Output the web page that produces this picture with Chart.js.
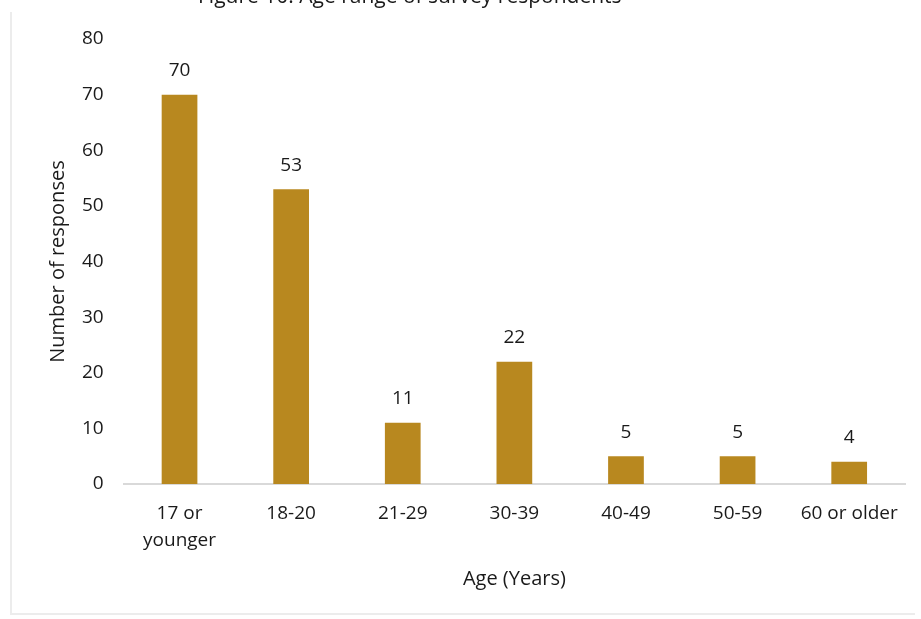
<!DOCTYPE html>
<html>
<head>
<meta charset="utf-8">
<script src="https://cdn.jsdelivr.net/npm/chart.js@4/dist/chart.umd.min.js"></script>
<style>
  html, body { margin: 0; padding: 0; background: #fff; }
  #wrap { width: 921px; height: 619px; position: relative; }
</style>
</head>
<body>
<div id="wrap"><canvas id="chart" width="921" height="619"></canvas></div>
<script>
// Survey responses per age group
const ageGroups = [['17 or', 'younger'], '18-20', '21-29', '30-39', '40-49', '50-59', '60 or older'];
const responses = [70, 53, 11, 22, 5, 5, 4];
const yTicks = [0, 10, 20, 30, 40, 50, 60, 70, 80];

const barColor = '#B8881F';
const textColor = '#1a1a1a';
const fontFamily = '"Open Sans", "Noto Sans", sans-serif';

// Value labels above each bar, plus the faint page frame and clipped caption
const extras = {
  id: 'extras',
  beforeDraw(chart) {
    const ctx = chart.ctx;
    ctx.save();
    ctx.fillStyle = '#fff';
    ctx.fillRect(0, 0, chart.width, chart.height);
    ctx.strokeStyle = '#ececec';
    ctx.lineWidth = 2;
    ctx.beginPath();
    ctx.moveTo(11, 12);
    ctx.lineTo(11, 614);
    ctx.lineTo(915, 614);
    ctx.stroke();
    ctx.fillStyle = textColor;
    ctx.font = '21px ' + fontFamily;
    ctx.textBaseline = 'alphabetic';
    ctx.textAlign = 'left';
    ctx.fillText('Figure 10: Age range of survey respondents', 198, 3);
    ctx.restore();
  },
  afterDatasetsDraw(chart) {
    const ctx = chart.ctx;
    const meta = chart.getDatasetMeta(0);
    ctx.save();
    ctx.fillStyle = textColor;
    ctx.font = '19px ' + fontFamily;
    ctx.textAlign = 'center';
    ctx.textBaseline = 'middle';
    meta.data.forEach((bar, i) => {
      ctx.fillText(String(responses[i]), bar.x, bar.y - 24);
    });
    ctx.restore();
  }
};

new Chart(document.getElementById('chart').getContext('2d'), {
  type: 'bar',
  data: {
    labels: ageGroups,
    datasets: [{
      data: responses,
      backgroundColor: barColor,
      barPercentage: 0.32,
      categoryPercentage: 1
    }]
  },
  options: {
    responsive: false,
    animation: false,
    layout: { padding: { top: 39, right: 16, bottom: 24, left: 46 } },
    plugins: { legend: { display: false }, tooltip: { enabled: false } },
    scales: {
      x: {
        grid: { display: false, drawTicks: false },
        border: { color: '#d9d9d9', width: 2 },
        ticks: { color: textColor, font: { family: fontFamily, size: 19, lineHeight: 1.42 }, padding: 16, maxRotation: 0, autoSkip: false },
        title: { display: true, text: 'Age (Years)', color: textColor, font: { family: fontFamily, size: 20 }, padding: { top: -3, bottom: 4 } }
      },
      y: {
        min: 0,
        max: 80,
        afterBuildTicks(axis) { axis.ticks = yTicks.map(v => ({ value: v })); },
        grid: { display: false, drawTicks: false },
        border: { display: false },
        ticks: { color: textColor, font: { family: fontFamily, size: 19 }, padding: 20 },
        title: { display: true, text: 'Number of responses', color: textColor, font: { family: fontFamily, size: 20 }, padding: { top: 0, bottom: -8 } }
      }
    }
  },
  plugins: [extras]
});
</script>
</body>
</html>
